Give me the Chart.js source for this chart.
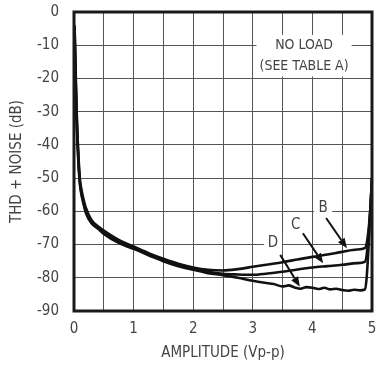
<!DOCTYPE html>
<html>
<head>
<meta charset="utf-8">
<script src="https://cdn.jsdelivr.net/npm/chart.js@4.4.1/dist/chart.umd.min.js"></script>
<style>
    body { margin: 0; background: #fff; }
    #wrap { width: 377px; height: 365px; }
</style>
</head>
<body>
<div id="wrap"><canvas id="thdChart"></canvas></div>
<script>
// Curve B
const bAmp = [0.01, 0.02, 0.04, 0.055, 0.07, 0.095, 0.12, 0.15, 0.2, 0.29, 0.4, 0.5, 0.75, 1.0, 1.25, 1.5, 1.75, 2.0, 2.25, 2.5, 2.75, 3.0, 3.25, 3.5, 3.75, 4.0, 4.25, 4.5, 4.75, 4.88, 4.94, 4.98, 5.0];
const bDb = [-4, -12, -27, -35.5, -41.5, -49.6, -53, -55.6, -59, -62.5, -64.5, -65.8, -68.6, -70.6, -72.6, -74.3, -75.8, -76.9, -77.6, -77.8, -77.4, -76.7, -76, -75.3, -74.5, -73.7, -73, -72.2, -71.5, -71.1, -66, -57, -50];

// Curve C
const cAmp = [0.01, 0.02, 0.04, 0.055, 0.07, 0.095, 0.12, 0.15, 0.2, 0.29, 0.4, 0.5, 0.75, 1.0, 1.25, 1.5, 1.75, 2.0, 2.25, 2.5, 2.75, 3.0, 3.25, 3.5, 3.75, 4.0, 4.25, 4.5, 4.75, 4.88, 4.93, 4.97, 5.0];
const cDb = [-5, -14, -29, -37, -43, -50.5, -54, -56.5, -60, -63.3, -64.8, -66.3, -69.2, -71, -73.2, -74.8, -76.2, -77.3, -78.2, -78.8, -79, -79.1, -78.7, -78.2, -77.5, -76.9, -76.5, -76.1, -75.6, -75.2, -70, -60, -50];

// Curve D
const dAmp = [0.01, 0.02, 0.04, 0.055, 0.07, 0.095, 0.12, 0.15, 0.2, 0.29, 0.4, 0.5, 0.75, 1.0, 1.25, 1.5, 1.75, 2.0, 2.25, 2.5, 2.75, 3.0, 3.2, 3.35, 3.5, 3.6, 3.7, 3.8, 3.9, 4.0, 4.1, 4.2, 4.3, 4.4, 4.5, 4.6, 4.7, 4.8, 4.88, 4.91, 4.95, 5.0];
const dDb = [-6, -15, -30, -38, -44, -51, -54.5, -57, -60.5, -63.5, -65.2, -66.8, -69.5, -71.3, -73, -75, -76.5, -77.6, -78.6, -79.2, -80, -80.9, -81.5, -81.9, -82.6, -82.3, -82.9, -83.3, -82.8, -83, -83.4, -83, -83.5, -83.3, -83.7, -83.9, -83.6, -83.8, -83.5, -80, -68, -50];

// Axis ranges
const xRange = [0, 5];
const yRange = [-90, 0];

// Annotations (data coordinates)
const noteLines = ['NO LOAD', '(SEE TABLE A)'];
const noteAt = [3.86, -9.9, -16.4];
const curveNames = ['B', 'C', 'D'];
const nameAt = [[4.18, -59.1], [3.72, -64.1], [3.34, -69.6]];
const arrowFrom = [[4.23, -62.0], [3.84, -66.6], [3.46, -73.1]];
const arrowTo = [[4.58, -71.1], [4.18, -75.6], [3.79, -82.7]];

const FONT = "'Liberation Sans Narrow', 'Arial Narrow', 'DejaVu Sans Condensed', 'Liberation Sans', sans-serif";
const TEXT = '#444';

function toPoints(xs, ys) {
    return xs.map((x, i) => ({ x: x, y: ys[i] }));
}

function curve(label, xs, ys) {
    return {
        label: label,
        data: toPoints(xs, ys),
        borderColor: '#111',
        borderWidth: 2.6,
        pointRadius: 0,
        cubicInterpolationMode: 'monotone',
        fill: false
    };
}

// Draws the heavy frame, text notes and arrows
const notesPlugin = {
    id: 'notes',
    afterDatasetsDraw(chart) {
        const ctx = chart.ctx;
        const xs = chart.scales.x;
        const ys = chart.scales.y;
        const area = chart.chartArea;
        ctx.save();

        ctx.font = '14px ' + FONT;
        ctx.textAlign = 'center';
        ctx.textBaseline = 'middle';

        // NO LOAD note with white box
        const nx = xs.getPixelForValue(noteAt[0]);
        const ny1 = ys.getPixelForValue(noteAt[1]);
        const ny2 = ys.getPixelForValue(noteAt[2]);
        const w = Math.max(...noteLines.map(t => ctx.measureText(t).width)) + 6;
        ctx.fillStyle = '#fff';
        ctx.fillRect(nx - w / 2, ny1 - 10, w, ny2 - ny1 + 20);
        ctx.fillStyle = TEXT;
        ctx.fillText(noteLines[0], nx, ny1);
        ctx.fillText(noteLines[1], nx, ny2);

        // curve names and arrows
        ctx.font = '15px ' + FONT;
        curveNames.forEach((name, i) => {
            const px = xs.getPixelForValue(nameAt[i][0]);
            const py = ys.getPixelForValue(nameAt[i][1]);
            ctx.fillStyle = '#fff';
            ctx.fillRect(px - 9, py - 9, 18, 18);
            ctx.fillStyle = TEXT;
            ctx.fillText(name, px, py);

            const x1 = xs.getPixelForValue(arrowFrom[i][0]);
            const y1 = ys.getPixelForValue(arrowFrom[i][1]);
            const x2 = xs.getPixelForValue(arrowTo[i][0]);
            const y2 = ys.getPixelForValue(arrowTo[i][1]);
            const ang = Math.atan2(y2 - y1, x2 - x1);
            const head = 10;
            ctx.strokeStyle = '#111';
            ctx.lineWidth = 2;
            ctx.beginPath();
            ctx.moveTo(x1, y1);
            ctx.lineTo(x2 - head * Math.cos(ang), y2 - head * Math.sin(ang));
            ctx.stroke();
            ctx.fillStyle = '#111';
            ctx.beginPath();
            ctx.moveTo(x2, y2);
            ctx.lineTo(x2 - head * Math.cos(ang) + 4 * Math.sin(ang), y2 - head * Math.sin(ang) - 4 * Math.cos(ang));
            ctx.lineTo(x2 - head * Math.cos(ang) - 4 * Math.sin(ang), y2 - head * Math.sin(ang) + 4 * Math.cos(ang));
            ctx.closePath();
            ctx.fill();
        });

        // heavy frame
        ctx.strokeStyle = '#1a1a1a';
        ctx.lineWidth = 3;
        ctx.strokeRect(area.left, area.top, area.right - area.left, area.bottom - area.top);
        ctx.restore();
    }
};

const ctx = document.getElementById('thdChart').getContext('2d');
new Chart(ctx, {
    type: 'line',
    data: {
        datasets: [
            curve('B', bAmp, bDb),
            curve('C', cAmp, cDb),
            curve('D', dAmp, dDb)
        ]
    },
    options: {
        responsive: true,
        maintainAspectRatio: false,
        animation: false,
        devicePixelRatio: 1,
        layout: { padding: { left: 0, right: 5, top: 12, bottom: 0 } },
        plugins: {
            legend: { display: false },
            tooltip: { enabled: false }
        },
        scales: {
            x: {
                type: 'linear',
                min: xRange[0],
                max: xRange[1],
                afterFit: function (scale) {
                    scale.height = 54;
                    scale.paddingLeft = 0;
                    scale.paddingRight = 0;
                },
                border: { display: false },
                grid: { color: '#555', lineWidth: 1, drawTicks: false },
                ticks: {
                    stepSize: 0.5,
                    autoSkip: false,
                    maxRotation: 0,
                    padding: 9,
                    color: TEXT,
                    font: { family: FONT, size: 15 },
                    callback: v => Number.isInteger(v) ? v : ''
                },
                title: {
                    display: true,
                    text: 'AMPLITUDE (Vp-p)',
                    color: TEXT,
                    font: { family: FONT, size: 15 },
                    padding: { top: 0, bottom: 3 }
                }
            },
            y: {
                min: yRange[0],
                max: yRange[1],
                afterFit: function (scale) {
                    scale.width = 74;
                    scale.paddingTop = 0;
                    scale.paddingBottom = 0;
                },
                border: { display: false },
                grid: { color: '#555', lineWidth: 1, drawTicks: false },
                ticks: {
                    stepSize: 10,
                    padding: 15,
                    color: TEXT,
                    font: { family: FONT, size: 15 }
                },
                title: {
                    display: true,
                    text: 'THD + NOISE (dB)',
                    color: TEXT,
                    font: { family: FONT, size: 15 },
                    padding: { top: 8, bottom: 0 }
                }
            }
        }
    },
    plugins: [notesPlugin]
});
</script>
</body>
</html>
